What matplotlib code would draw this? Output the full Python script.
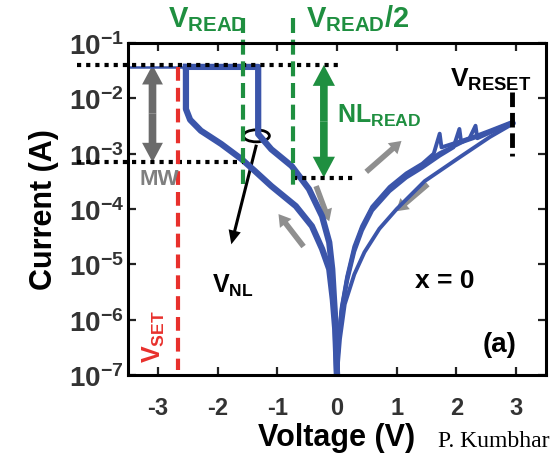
import numpy as np
import matplotlib.pyplot as plt
import matplotlib.transforms as mtransforms
from matplotlib.patches import FancyArrowPatch, Ellipse

plt.rcParams['font.family'] = ['Liberation Sans', 'DejaVu Sans']
plt.rcParams['mathtext.fontset'] = 'custom'
plt.rcParams['mathtext.rm'] = 'Liberation Sans'
plt.rcParams['mathtext.bf'] = 'Liberation Sans:bold'
plt.rcParams['mathtext.it'] = 'Liberation Sans:italic'

# ---- data ----
# negative sweep: HRS branch 0 -> V_NL, jump to compliance, run to set
v_hrs = [0.0, -0.02, -0.05, -0.08, -0.13, -0.25, -0.47, -0.76, -1.10, -1.32, -1.32, -2.53]
i_hrs = [1e-7, 6.8e-7, 2.3e-6, 8.2e-6, 2.5e-5, 7.4e-5, 2.3e-4, 6.0e-4, 1.2e-3, 2.26e-3, 3.7e-2, 3.7e-2]
# one cycle that went on to -3.5 V at compliance
v_cc = [-3.5, -2.53]
i_cc = [3.7e-2, 3.7e-2]
# return branch after set (LRS)
v_lrs = [-2.53, -2.53, -2.46, -2.28, -1.94, -1.60, -1.37, -1.10, -0.69, -0.42, -0.25, -0.13, -0.07, -0.03, 0.0]
i_lrs = [3.7e-2, 6.4e-3, 4.1e-3, 2.6e-3, 1.5e-3, 8.0e-4, 4.8e-4, 2.6e-4, 1.13e-4, 4.9e-5, 1.9e-5,
         8.2e-6, 2.3e-6, 6.8e-7, 1e-7]

# positive sweep up (three cycles, each with a small reset zig-zag)
v_up1 = [0, 0.03, 0.08, 0.17, 0.29, 0.42, 0.59, 0.88, 1.16, 1.43, 1.62, 1.72, 1.75, 2.01, 2.28, 2.56, 2.95]
i_up1 = [1e-7, 5e-7, 1.7e-6, 6.0e-6, 2.1e-5, 4.9e-5, 1.1e-4, 2.5e-4, 4.4e-4, 6.6e-4, 1.0e-3, 2.3e-3,
         1.3e-3, 1.6e-3, 2.0e-3, 2.6e-3, 3.8e-3]
v_up2 = [0, 0.03, 0.08, 0.17, 0.29, 0.42, 0.59, 0.88, 1.16, 1.43, 1.72, 1.95, 2.05, 2.08, 2.28, 2.56, 2.95]
i_up2 = [1e-7, 4.2e-7, 1.45e-6, 5.0e-6, 1.7e-5, 4.1e-5, 9.4e-5, 2.1e-4, 3.7e-4, 5.6e-4, 9.2e-4, 1.3e-3,
         2.8e-3, 1.6e-3, 1.9e-3, 2.5e-3, 3.7e-3]
v_up3 = [0, 0.03, 0.08, 0.17, 0.29, 0.42, 0.59, 0.88, 1.16, 1.43, 1.72, 2.01, 2.22, 2.32, 2.35, 2.56, 2.95]
i_up3 = [1e-7, 4.7e-7, 1.6e-6, 5.6e-6, 1.9e-5, 4.6e-5, 1.05e-4, 2.4e-4, 4.2e-4, 6.3e-4, 1.02e-3, 1.45e-3,
         1.9e-3, 3.2e-3, 1.9e-3, 2.4e-3, 3.6e-3]
# positive sweep back down
v_dn = [2.95, 2.56, 2.06, 1.47, 1.0, 0.71, 0.46, 0.29, 0.13, 0.05, 0.0]
i_dn = [3.5e-3, 2.0e-3, 8.7e-4, 3.2e-4, 1.0e-4, 4.4e-5, 1.66e-5, 6.6e-6, 1.9e-6, 4.5e-7, 1e-7]

# reference levels / voltages
v_set = -2.66
v_read = -1.57
v_read2 = -0.74
v_reset = 2.93
v_nl, i_nl = -1.32, 2.1e-3
i_top = 4.0e-2        # top dotted level
i_mw_low = 7.0e-4     # lower level at V_READ
i_nl_low = 3.7e-4     # lower level at V_READ/2

xticks = [-3, -2, -1, 0, 1, 2, 3]
xticklabels = ['-3', '-2', '-1', '0', '1', '2', '3']
yticks = [1e-7, 1e-6, 1e-5, 1e-4, 1e-3, 1e-2, 1e-1]
yticklabels = [r'$\mathbf{10^{-%d}}$' % k for k in [7, 6, 5, 4, 3, 2, 1]]

blue = '#3b55aa'
green = '#1f8f40'
red = '#e8302c'
gray = '#8f8f8f'

fig = plt.figure(figsize=(5.53, 4.56), dpi=100)
ax = fig.add_axes([0.2315, 0.1754, 0.7558, 0.7281])
ax.set_yscale('log')
ax.set_xlim(-3.5, 3.5)
ax.set_ylim(1e-7, 1e-1)

# curves
ax.plot(v_cc, i_cc, color=blue, lw=1.8, solid_capstyle='butt')
ax.plot(v_hrs, i_hrs, color=blue, lw=4.5, solid_joinstyle='round')
ax.plot(v_lrs, i_lrs, color=blue, lw=4.5, solid_joinstyle='round')
for vv, ii in [(v_up1, i_up1), (v_up2, i_up2), (v_up3, i_up3)]:
    ax.plot(vv, ii, color=blue, lw=2.8)
ax.plot(v_dn, i_dn, color=blue, lw=2.8)

# guide lines
dot = dict(color='black', lw=3, dashes=(1, 1.2), clip_on=False)
ax.plot([-4.35, 0.07], [i_top, i_top], **dot)
ax.plot([-4.35, v_read], [i_mw_low, i_mw_low], **dot)
ax.plot([v_read2, 0.34], [i_nl_low, i_nl_low], **dot)

ax.plot([v_set, v_set], [3.7e-2, 1.25e-7], color=red, lw=3, dashes=(3.3, 1.7))
ax.plot([v_read, v_read], [0.28, 2.8e-4], color=green, lw=3, dashes=(3.6, 1.6), clip_on=False)
ax.plot([v_read2, v_read2], [0.28, 2.1e-4], color=green, lw=3, dashes=(3.6, 1.6), clip_on=False)
ax.plot([v_reset, v_reset], [1.3e-2, 9.0e-4], color='black', lw=3.5, dashes=(3, 1.2))


def arrow(x0, y0, x1, y1, color, hw, hl, tw):
    ax.add_patch(FancyArrowPatch((x0, y0), (x1, y1),
                                 arrowstyle=f'simple,head_width={hw},head_length={hl},tail_width={tw}',
                                 mutation_scale=1, color=color, lw=0, shrinkA=0, shrinkB=0,
                                 clip_on=False))


def double_arrow(x, y0, y1, color, hw, hl, tw):
    ym = np.sqrt(y0 * y1)
    arrow(x, ym, x, y0, color, hw, hl, tw)
    arrow(x, ym, x, y1, color, hw, hl, tw)


double_arrow(-3.09, i_top, i_mw_low, '#6b6b6b', 15, 14, 5.5)
double_arrow(-0.22, i_top, i_nl_low, green, 16, 15, 5.5)

# sweep direction arrows
arrow(0.49, 4.7e-4, 1.08, 1.7e-3, gray, 10.5, 8.5, 4)
arrow(1.52, 2.8e-4, 0.99, 9.1e-5, gray, 10.5, 8.5, 4)
arrow(-0.35, 2.6e-4, -0.13, 6.0e-5, gray, 10.5, 8.5, 4)
arrow(-0.56, 2.1e-5, -0.98, 8.1e-5, gray, 10.5, 8.5, 4)

# V_NL marker
trans = fig.dpi_scale_trans + mtransforms.ScaledTranslation(v_nl - 0.03, i_nl, ax.transData)
ax.add_patch(Ellipse((0, 0), 0.26, 0.12, transform=trans, fill=False, ec='black', lw=2))
arrow(-1.35, 1.45e-3, -1.77, 2.3e-5, 'black', 9, 10, 2.2)

# labels
ax.text(-2.83, 0.2, r'$\mathbf{V_{READ}}$', color=green, fontsize=21, ha='left', va='baseline',
        clip_on=False)
ax.text(-0.52, 0.2, r'$\mathbf{V_{READ}/2}$', color=green, fontsize=21, ha='left', va='baseline',
        clip_on=False)
ax.text(1.89, 1.67e-2, r'$\mathbf{V_{RESET}}$', color='black', fontsize=19, ha='left', va='baseline')
ax.text(0.0, 3.7e-3, r'$\mathbf{NL_{READ}}$', color=green, fontsize=18, ha='left', va='baseline')
ax.text(-2.97, 3.5e-4, 'MW', color='#7f7f7f', fontsize=16, fontweight='bold', ha='center', va='center')
ax.text(-3.07, 5.2e-7, r'$\mathbf{V_{SET}}$', color=red, fontsize=18, rotation=90,
        ha='center', va='center')
ax.text(-1.75, 4.2e-6, r'$\mathbf{V_{NL}}$', color='black', fontsize=18, ha='center', va='center')
ax.text(1.80, 5.2e-6, 'x = 0', color='black', fontsize=19, fontweight='bold', ha='center', va='center')
ax.text(2.72, 3.6e-7, '(a)', color='black', fontsize=20, fontweight='bold', ha='center', va='center')

# axes styling
for s in ax.spines.values():
    s.set_linewidth(2.2)
ax.set_xticks(xticks)
ax.set_xticklabels(xticklabels)
ax.set_yticks(yticks)
ax.set_yticklabels(yticklabels)
ax.tick_params(which='both', direction='in', top=True, right=True, width=1.6, colors='#222222')
ax.tick_params(which='major', length=6)
ax.tick_params(which='minor', length=3.5)
ax.tick_params(axis='x', pad=15, labelsize=17)
ax.tick_params(axis='y', pad=3, labelsize=20)
for lab in ax.get_xticklabels():
    lab.set_fontweight('bold')
    lab.set_color('#333333')
for lab in ax.get_yticklabels():
    lab.set_color('#333333')
ax.xaxis.set_minor_locator(plt.NullLocator())

ax.set_xlabel('Voltage (V)', fontsize=22, fontweight='bold', labelpad=2)
ax.set_ylabel('Current (A)', fontsize=22, fontweight='bold', labelpad=7)

fig.text(0.792, 0.02, 'P. Kumbhar', family='Liberation Serif', fontsize=17, color='black')

fig.savefig('out.png', dpi=100)
